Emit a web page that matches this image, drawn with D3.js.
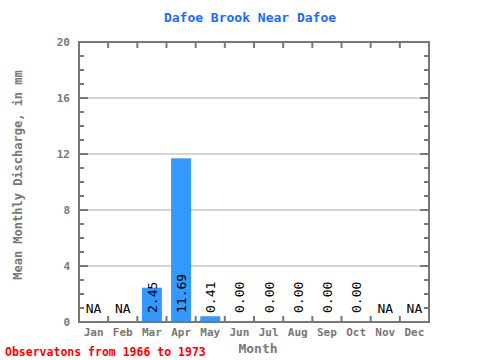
<!DOCTYPE html>
<html><head><meta charset="utf-8">
<script src="https://cdn.jsdelivr.net/npm/d3@7"></script>
<style>body{margin:0;background:#fff}svg{display:block}</style>
</head><body>
<script>
const months = ["Jan","Feb","Mar","Apr","May","Jun","Jul","Aug","Sep","Oct","Nov","Dec"];
const values = [null,null,2.45,11.69,0.41,0.00,0.00,0.00,0.00,0.00,null,null];
const yTicks = [0,4,8,12,16,20];
const title = "Dafoe Brook Near Dafoe";
const yTitle = "Mean Monthly Discharge, in mm";
const xTitle = "Month";
const note = "Observatons from 1966 to 1973";

const W = 480, H = 360;
const L = 79, R = 429, T = 42, B = 322;
const mono = "'DejaVu Sans Mono', 'Liberation Mono', monospace";
const gray = "#777";

const svg = d3.select("body").append("svg").attr("width", W).attr("height", H);
const x = d3.scaleBand().domain(months).range([L, R]).paddingInner(0).paddingOuter(0);
const y = d3.scaleLinear().domain([0, 20]).range([B, T]);
const barW = 20;

// gridlines
svg.append("g").selectAll("line").data(yTicks.filter(d => d > 0 && d < 20)).join("line")
  .attr("x1", L).attr("x2", R).attr("y1", d => y(d)).attr("y2", d => y(d))
  .attr("stroke", "#aaa").attr("stroke-width", 1);

// bars
svg.append("g").selectAll("rect").data(months.map((m, i) => ({m, v: values[i]})).filter(d => d.v !== null && d.v > 0))
  .join("rect")
  .attr("x", d => x(d.m) + x.bandwidth() / 2 - barW / 2)
  .attr("width", barW)
  .attr("y", d => y(d.v))
  .attr("height", d => y(0) - y(d.v))
  .attr("fill", "#3399ff");

// minor ticks (every 1 unit) left and right
const minor = d3.range(1, 20).filter(d => d % 4 !== 0);
const tg = svg.append("g").attr("stroke", gray).attr("stroke-width", 2);
minor.forEach(d => {
  tg.append("line").attr("x1", L).attr("x2", L + 5).attr("y1", y(d)).attr("y2", y(d));
  tg.append("line").attr("x1", R - 5).attr("x2", R).attr("y1", y(d)).attr("y2", y(d));
});
yTicks.filter(d => d > 0 && d < 20).forEach(d => {
  tg.append("line").attr("x1", L).attr("x2", L + 9).attr("y1", y(d)).attr("y2", y(d));
  tg.append("line").attr("x1", R - 9).attr("x2", R).attr("y1", y(d)).attr("y2", y(d));
});
// month boundary ticks top & bottom
months.forEach((m, i) => {
  if (i === 0) return;
  const xx = x(m);
  tg.append("line").attr("x1", xx).attr("x2", xx).attr("y1", T).attr("y2", T + 6);
  tg.append("line").attr("x1", xx).attr("x2", xx).attr("y1", B - 6).attr("y2", B);
});

// frame
svg.append("rect").attr("x", L).attr("y", T).attr("width", R - L).attr("height", B - T)
  .attr("fill", "none").attr("stroke", gray).attr("stroke-width", 2);

// y tick labels via axis
const yAxis = svg.append("g").attr("transform", `translate(${L},0)`)
  .call(d3.axisLeft(y).tickValues(yTicks).tickSize(0).tickPadding(9).tickFormat(d3.format("d")));
yAxis.select(".domain").remove();
yAxis.selectAll("text").attr("font-family", mono).attr("font-size", 11).attr("font-weight", "bold").attr("fill", gray);

// x tick labels
const xAxis = svg.append("g").attr("transform", `translate(0,${B})`)
  .call(d3.axisBottom(x).tickSize(0).tickPadding(6));
xAxis.select(".domain").remove();
xAxis.selectAll("text").attr("font-family", mono).attr("font-size", 11).attr("font-weight", "bold").attr("fill", gray);

// value labels
months.forEach((m, i) => {
  const v = values[i];
  const cx = x(m) + x.bandwidth() / 2;
  if (v === null) {
    svg.append("text").attr("x", cx).attr("y", B - 9).attr("text-anchor", "middle")
      .attr("font-family", mono).attr("font-size", 13).attr("fill", "#000").text("NA");
  } else {
    svg.append("text").attr("transform", `translate(${cx + 5},${B - 9}) rotate(-90)`)
      .attr("text-anchor", "start").attr("font-family", mono).attr("font-size", 13).attr("fill", "#000")
      .text(v.toFixed(2));
  }
});

// titles
svg.append("text").attr("x", 250).attr("y", 22).attr("text-anchor", "middle")
  .attr("font-family", mono).attr("font-size", 13).attr("font-weight", "bold").attr("fill", "#1a6cff").text(title);
svg.append("text").attr("x", 258).attr("y", 353).attr("text-anchor", "middle")
  .attr("font-family", mono).attr("font-size", 13).attr("font-weight", "bold").attr("fill", gray).text(xTitle);
svg.append("text").attr("transform", `translate(22,175) rotate(-90)`).attr("text-anchor", "middle")
  .attr("font-family", mono).attr("font-size", 12).attr("font-weight", "bold").attr("fill", gray).text(yTitle);
svg.append("text").attr("x", 5).attr("y", 356).attr("text-anchor", "start")
  .attr("font-family", mono).attr("font-size", 11.5).attr("font-weight", "bold").attr("fill", "#ff0000").text(note);
</script>
</body></html>
